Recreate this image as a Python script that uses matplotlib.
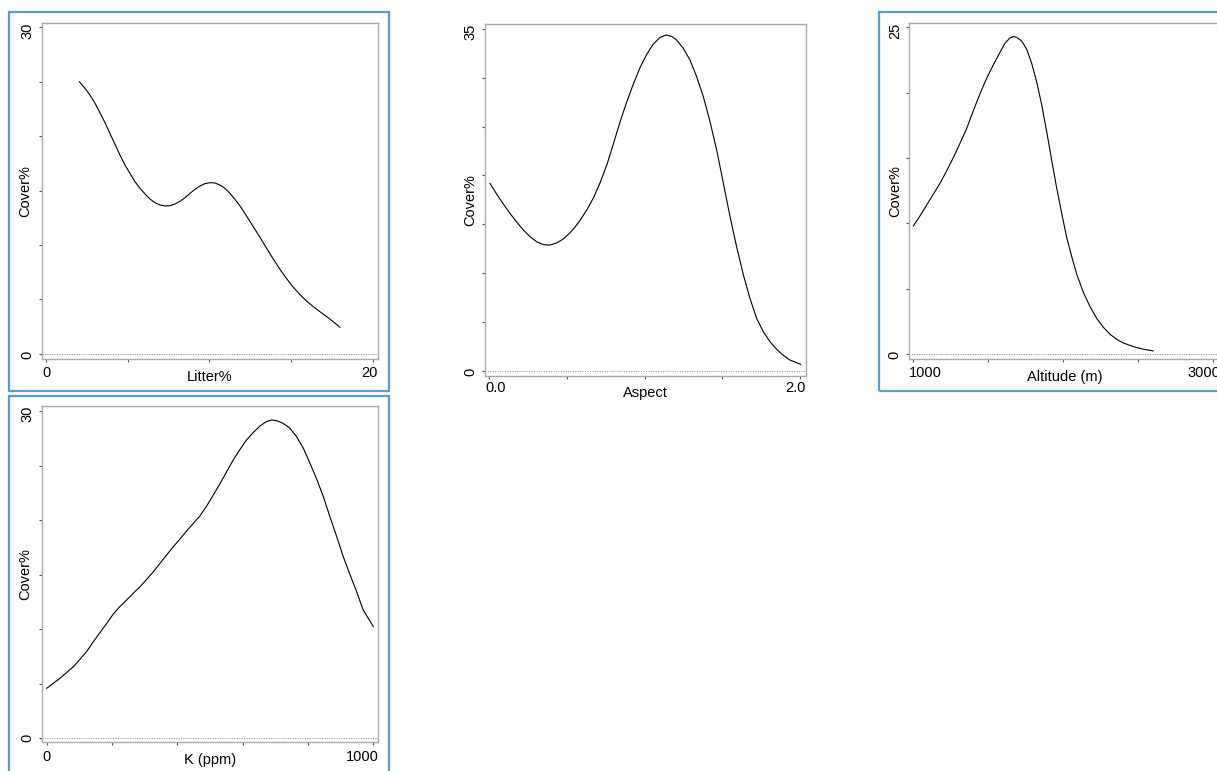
import matplotlib
matplotlib.use("Agg")
import matplotlib.pyplot as plt
from matplotlib.patches import Rectangle
from matplotlib.transforms import offset_copy

plt.rcParams['font.family'] = ['Liberation Sans', 'DejaVu Sans']

# ---------------- data ----------------
litter_x = [2.04, 2.39, 2.69, 3.00, 3.30, 3.61, 3.91, 4.22, 4.53, 4.83, 5.14, 5.44,
            5.75, 6.06, 6.36, 6.67, 6.97, 7.28, 7.58, 7.89, 8.20, 8.50, 8.81, 9.11,
            9.42, 9.72, 10.03, 10.34, 10.64, 10.95, 11.25, 11.56, 11.87, 12.27,
            12.68, 13.09, 13.50, 13.90, 14.31, 14.72, 15.13, 15.54, 15.94, 16.35,
            16.76, 17.17, 17.57, 17.98]
litter_y = [24.98, 24.37, 23.76, 23.00, 22.14, 21.22, 20.24, 19.24, 18.23, 17.34,
            16.57, 15.81, 15.20, 14.68, 14.22, 13.88, 13.67, 13.58, 13.61, 13.76,
            14.01, 14.34, 14.74, 15.11, 15.41, 15.63, 15.72, 15.69, 15.50, 15.20,
            14.74, 14.19, 13.58, 12.66, 11.68, 10.70, 9.69, 8.72, 7.77, 6.91, 6.12,
            5.44, 4.86, 4.34, 3.88, 3.43, 2.97, 2.45]

aspect_x = [0.004, 0.047, 0.090, 0.133, 0.176, 0.219, 0.262, 0.305, 0.348, 0.391,
            0.433, 0.476, 0.519, 0.552, 0.584, 0.627, 0.670, 0.713, 0.756, 0.798,
            0.841, 0.884, 0.927, 0.970, 1.013, 1.056, 1.099, 1.138, 1.174, 1.206,
            1.249, 1.292, 1.335, 1.378, 1.421, 1.464, 1.507, 1.550, 1.593, 1.636,
            1.678, 1.721, 1.764, 1.807, 1.850, 1.893, 1.936, 1.979, 2.005]
aspect_y = [19.19, 18.10, 17.07, 16.11, 15.23, 14.41, 13.72, 13.21, 12.91, 12.87,
            13.08, 13.49, 14.12, 14.72, 15.40, 16.45, 17.70, 19.25, 21.05, 23.20,
            25.45, 27.50, 29.36, 31.03, 32.40, 33.46, 34.14, 34.38, 34.24, 33.87,
            33.01, 31.82, 30.11, 28.06, 25.50, 22.60, 19.19, 15.77, 12.63, 9.80,
            7.41, 5.36, 3.99, 2.97, 2.19, 1.57, 1.09, 0.82, 0.65]

alt_x = [1000, 1044, 1089, 1133, 1178, 1222, 1267, 1311, 1356, 1400, 1444, 1489,
         1533, 1578, 1611, 1644, 1667, 1689, 1722, 1756, 1789, 1822, 1856, 1889,
         1922, 1956, 1989, 2022, 2056, 2089, 2133, 2178, 2222, 2267, 2311, 2356,
         2400, 2467, 2533, 2600]
alt_y = [9.80, 10.56, 11.40, 12.22, 13.06, 14.01, 15.03, 16.12, 17.27, 18.62,
         19.90, 21.10, 22.12, 23.09, 23.78, 24.18, 24.29, 24.23, 23.95, 23.32,
         22.24, 20.84, 19.06, 17.02, 14.85, 12.68, 10.77, 8.93, 7.45, 6.12, 4.72,
         3.62, 2.73, 2.04, 1.51, 1.12, 0.84, 0.56, 0.36, 0.23]

k_x = [0, 20, 41, 61, 82, 102, 122, 143, 163, 184, 204, 224, 245, 265, 286, 306,
       327, 347, 367, 388, 408, 429, 449, 469, 490, 510, 531, 551, 571, 592, 612,
       633, 653, 673, 689, 704, 724, 745, 765, 786, 806, 827, 847, 867, 888, 908,
       929, 949, 969, 985, 1000]
k_y = [4.58, 5.04, 5.50, 6.02, 6.57, 7.24, 7.94, 8.86, 9.69, 10.54, 11.40, 12.07,
       12.68, 13.29, 13.90, 14.57, 15.28, 16.04, 16.80, 17.57, 18.27, 19.03, 19.71,
       20.38, 21.30, 22.30, 23.37, 24.44, 25.51, 26.49, 27.35, 28.05, 28.63, 29.03,
       29.18, 29.12, 28.87, 28.41, 27.65, 26.58, 25.21, 23.74, 22.15, 20.32, 18.48,
       16.65, 14.97, 13.44, 11.76, 10.99, 10.24]

litter_xticks = [0, 5, 10, 15, 20]
litter_xlabels = ['0', '20']
litter_yticks = [0, 5, 10, 15, 20, 25, 30]
litter_ylabels = ['0', '30']

aspect_xticks = [0.0, 0.5, 1.0, 1.5, 2.0]
aspect_xlabels = ['0.0', '2.0']
aspect_yticks = [0, 5, 10, 15, 20, 25, 30, 35]
aspect_ylabels = ['0', '35']

alt_xticks = [1000, 1500, 2000, 2500, 3000]
alt_xlabels = ['1000', '3000']
alt_yticks = [0, 5, 10, 15, 20, 25]
alt_ylabels = ['0', '25']

k_xticks = [0, 200, 400, 600, 800, 1000]
k_xlabels = ['0', '1000']
k_yticks = [0, 5, 10, 15, 20, 25, 30]
k_ylabels = ['0', '30']

# ---------------- layout ----------------
W, H = 1217, 771
fig = plt.figure(figsize=(W / 100, H / 100), dpi=100)


def px_axes(l, t, r, b):
    return [l / W, 1 - b / H, (r - l) / W, (b - t) / H]


def frame(l, t, r, b):
    fig.patches.append(Rectangle((l / W, 1 - b / H), (r - l) / W, (b - t) / H,
                                 transform=fig.transFigure, fill=False,
                                 edgecolor='#5B9BD5', linewidth=1.6, zorder=0))


FS = 10.5


def panel(rect, x, y, xlim, ylim, xt, xl, yt, yl, xlabel, xtick_off, xlab_off,
          ylab_off):
    l, t, r, b = rect
    ax = fig.add_axes(px_axes(l, t, r, b))
    ax.plot(x, y, color='black', linewidth=0.8, solid_joinstyle='round')
    ax.axhline(0, color='#888888', linestyle=(0, (1, 1.5)), linewidth=0.7)
    ax.set_xlim(*xlim)
    ax.set_ylim(*ylim)
    ax.set_xticks(xt)
    ax.set_xticklabels([])
    ax.set_yticks(yt)
    ax.set_yticklabels([])
    ax.tick_params(axis='both', direction='out', length=2.5, width=0.8,
                   color='#555555')
    for s in ax.spines.values():
        s.set_color('#aaaaaa')
        s.set_linewidth(1.0)
    # end tick labels, aligned to the axes edges as in the reference
    tx = offset_copy(ax.transAxes, fig=fig, x=0, y=-xtick_off, units='dots')
    ax.text(0, 0, xl[0], transform=tx, ha='left', va='center', fontsize=FS)
    ax.text(1, 0, xl[-1], transform=tx, ha='right', va='center', fontsize=FS)
    ty = offset_copy(ax.transAxes, fig=fig, x=-14.5, y=0, units='dots')
    ax.text(0, 0, yl[0], transform=ty, ha='center', va='bottom', rotation=90,
            fontsize=FS)
    ax.text(0, 1, yl[-1], transform=ty, ha='center', va='top', rotation=90,
            fontsize=FS)
    ax.set_xlabel(xlabel, fontsize=FS)
    ax.set_ylabel('Cover%', fontsize=FS)
    ax.xaxis.label.set_va('center')
    ax.yaxis.label.set_va('center')
    ax.xaxis.set_label_coords(0.5, -xlab_off / (b - t))
    ax.yaxis.set_label_coords(-ylab_off / (r - l), 0.5)
    return ax


# panel 1: Litter
frame(9, 12, 389, 391)
panel((42, 23, 378, 359), litter_x, litter_y, (-0.245, 20.31), (-0.46, 30.37),
      litter_xticks, litter_xlabels, litter_yticks, litter_ylabels,
      'Litter%', 14, 18.3, 16.5)

# panel 2: Aspect
panel((485.3, 24, 805.7, 375.7), aspect_x, aspect_y, (-0.026, 2.037),
      (-0.51, 35.51), aspect_xticks, aspect_xlabels, aspect_yticks,
      aspect_ylabels, 'Aspect', 12.7, 17.7, 15.3)

# panel 3: Altitude
frame(879, 12, 1230, 391)
panel((909.3, 22.7, 1220, 359.3), alt_x, alt_y, (973, 3044.7), (-0.41, 25.35),
      alt_xticks, alt_xlabels, alt_yticks, alt_ylabels,
      'Altitude (m)', 14, 17.4, 14.3)

# panel 4: K
frame(9, 396, 389, 790)
panel((42, 406, 378.3, 742.3), k_x, k_y, (-14.4, 1015.3), (-0.37, 30.46),
      k_xticks, k_xlabels, k_yticks, k_ylabels,
      'K (ppm)', 14.4, 17.7, 16.5)

fig.savefig('out.png', dpi=100)
